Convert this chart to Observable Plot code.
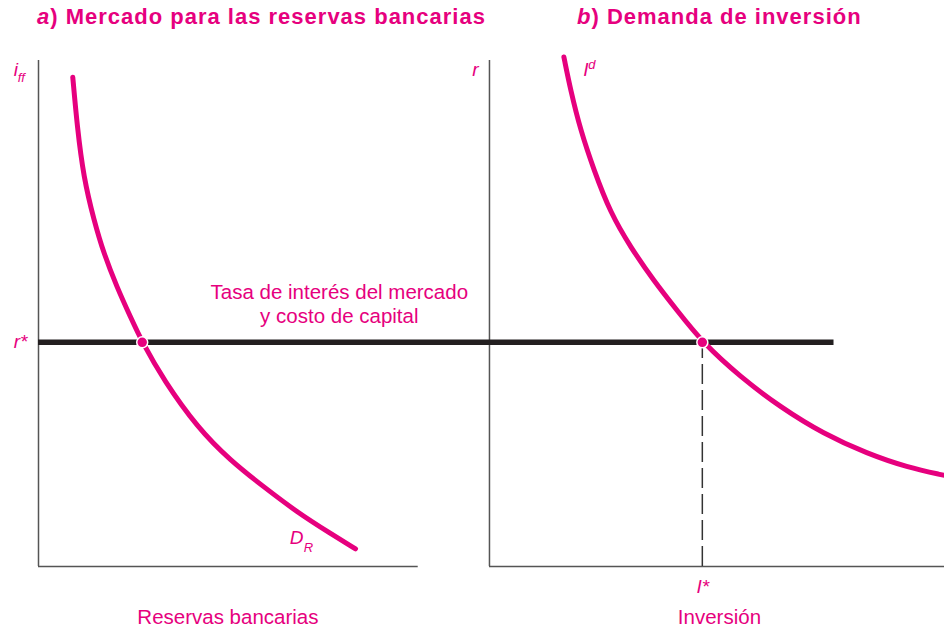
<!DOCTYPE html>
<html><head><meta charset="utf-8">
<script src="https://cdn.jsdelivr.net/npm/d3@7"></script>
<script src="https://cdn.jsdelivr.net/npm/@observablehq/plot@0.6"></script>
<style>
body{margin:0;background:#fff;font-family:"Liberation Sans",Arial,sans-serif;}
#wrap{position:relative;width:944px;height:630px;overflow:hidden}
#titles{position:relative;height:40px}
.t{position:absolute;top:6px;font-size:22px;letter-spacing:1px;font-weight:bold;color:#e6007e;white-space:nowrap;line-height:22px}
#chart svg{display:block}
</style></head><body>
<div id="wrap">
<div id="titles"><span class="t" style="left:37px"><i>a</i>) Mercado para las reservas bancarias</span><span class="t" style="left:577px"><i>b</i>) Demanda de inversión</span></div>
<div id="chart"></div>
</div>
<script>
// Panel a: demand for bank reserves D_R (quantity, rate)
const reservesQty  = [7.6, 8.6, 10.0, 12.3, 14.5, 17.4, 20.4, 23.0, 27.8, 35.2, 42.6, 50.0, 57.4, 64.8, 70.3];
const reservesRate = [96.7, 86.8, 76.9, 68.4, 61.8, 55.2, 49.3, 44.3, 36.8, 27.5, 20.9, 15.7, 10.7, 6.5, 3.5];
// Panel b: investment demand I^d (quantity, rate)
const investQty  = [116.5, 118.0, 120.2, 123.1, 126.8, 131.3, 136.4, 141.6, 147.2, 155.7, 164.5, 174.1, 183.8, 192.6, 200.9];
const investRate = [100.7, 94.1, 86.2, 78.5, 69.9, 63.1, 56.5, 50.6, 44.3, 37.4, 31.5, 26.2, 22.3, 19.6, 18.0];
// Equilibrium values
const rStar = 44.3;
const reservesStar = 23.0;
const iStar = 147.2;
const rateLineEnd = 176.4;
// Panel extents (axis origins and ends)
const panelOrigins = [0, 100];
const panelEnds = [84.2, 200.9];
const yTop = 100;
// Texts
const axisTitles = [{text: "Reservas bancarias", x: 42, y: -11.3}, {text: "Inversión", x: 151, y: -11.3}];
const rateNote = [{text: "Tasa de interés del mercado\ny costo de capital", x: 66.7, y: 48.2}];

const pink = "#e6007e";
const dr = reservesQty.map((q, i) => ({q, r: reservesRate[i]}));
const id = investQty.map((q, i) => ({q, r: investRate[i]}));
const axesV = panelOrigins.map(x => ({x}));
const axesH = panelOrigins.map((x1, i) => ({x1, x2: panelEnds[i]}));
const eq = [{q: reservesStar, r: rStar}, {q: iStar, r: rStar}];

const font = "Liberation Sans, Arial, sans-serif";
const sym = {fill: pink, fontStyle: "italic", fontSize: 19, textAnchor: "start", lineAnchor: "bottom", fontFamily: font};
const subS = {...sym, fontSize: 13};

const chart = Plot.plot({
  width: 944, height: 590,
  marginLeft: 38, marginRight: 0, marginTop: 20, marginBottom: 64,
  x: {domain: [0, 200.9], axis: null},
  y: {domain: [0, yTop], axis: null},
  style: {fontFamily: font, background: "#fff"},
  marks: [
    Plot.ruleX(axesV, {x: "x", y1: 0, y2: yTop, stroke: "#555", strokeWidth: 1.5}),
    Plot.ruleY(axesH, {y: 0, x1: "x1", x2: "x2", stroke: "#555", strokeWidth: 1.5}),
    Plot.ruleX([iStar], {x: d => d, y1: 0, y2: rStar, stroke: "#333", strokeWidth: 1.5, strokeDasharray: "20,6"}),
    Plot.ruleY([rStar], {y: d => d, x1: 0, x2: rateLineEnd, stroke: "#231f20", strokeWidth: 5.5}),
    Plot.line(dr, {x: "q", y: "r", stroke: pink, strokeWidth: 5, curve: "basis"}),
    Plot.line(id, {x: "q", y: "r", stroke: pink, strokeWidth: 5, curve: "basis"}),
    Plot.dot(eq, {x: "q", y: "r", r: 5.5, fill: pink, stroke: "#fff", strokeWidth: 1.5}),
    // symbols
    Plot.text(["i"], {...sym, x: -5.5, y: 97, text: d => d}),
    Plot.text(["ff"], {...subS, x: -5.5, y: 97, dx: 4, dy: 6, text: d => d}),
    Plot.text(["r"], {...sym, x: 96.2, y: 97, text: d => d}),
    Plot.text(["r*"], {...sym, x: -5.5, y: 43.1, text: d => d}),
    Plot.text(["D"], {...sym, x: 55.7, y: 4.5, text: d => d}),
    Plot.text(["R"], {...subS, x: 55.7, y: 4.5, dx: 14, dy: 8, text: d => d}),
    Plot.text(["I"], {...sym, x: 120.8, y: 97, text: d => d}),
    Plot.text(["d"], {...subS, x: 120.8, y: 97, dx: 5, dy: -7, text: d => d}),
    Plot.text(["I*"], {...sym, x: 145.9, y: -5.3, text: d => d}),
    Plot.text(axisTitles, {x: "x", y: "y", text: "text", fill: pink, fontSize: 20.5, lineAnchor: "bottom"}),
    Plot.text(rateNote, {x: "x", y: "y", text: "text", fill: pink, fontSize: 20.5, lineAnchor: "bottom", lineHeight: 24/20.5})
  ]
});
document.getElementById("chart").appendChild(chart);
</script>
</body></html>
